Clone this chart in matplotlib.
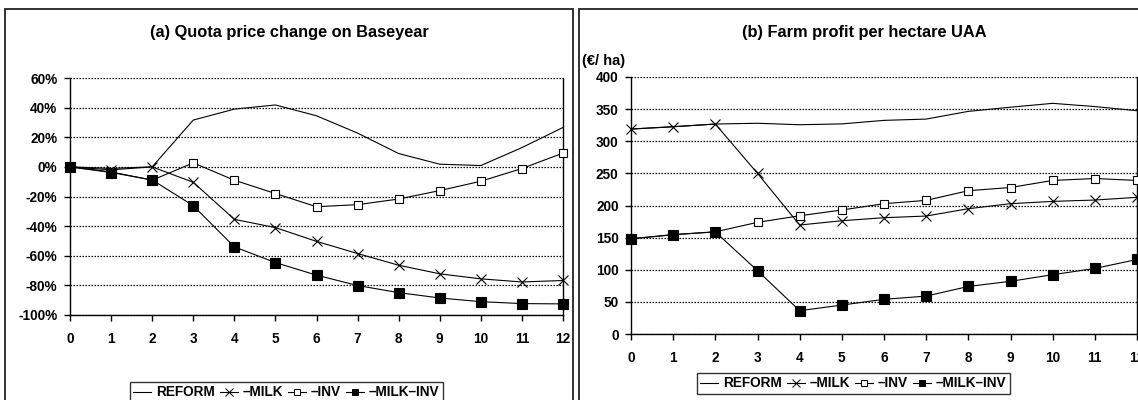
import numpy as np
import matplotlib
matplotlib.use('Agg')
import matplotlib.pyplot as plt
from matplotlib.lines import Line2D
from matplotlib.patches import Rectangle
from matplotlib.ticker import FuncFormatter

plt.rcParams.update({
    'font.family': ['Liberation Sans', 'DejaVu Sans'],
    'font.weight': 'bold',
    'font.size': 9.5,
})

# ─── Data ───────────────────────────────────────────────────────────────────
years = list(range(13))
series_names = ['REFORM', '\u2013MILK', '\u2013INV', '\u2013MILK\u2013INV']

# (a) quota price change on base year, in %
quota_reform = [0, -1, 0, 31.6, 39, 41.8, 34.5, 22.8, 9, 1.8, 0.9, 13, 26.6]
quota_milk = [0, -2, 0, -10.4, -35.4, -41, -50.3, -58.5, -66.4, -72.2, -75.6, -77.7, -76.7]
quota_inv = [0, -3.4, -9, 2.7, -9, -18, -26.9, -25.5, -21.7, -16, -9.7, -1.1, 9.3]
quota_milk_inv = [0, -3.8, -8.8, -26.2, -54, -64.6, -73.1, -80.1, -84.9, -88.5, -91, -92.3, -92.5]

# (b) farm profit per hectare UAA, EUR/ha
profit_reform = [319, 322.6, 326.8, 328, 325.7, 327, 332.5, 334.5, 346.5, 353, 359, 354, 347.5]
profit_milk = [319, 322.6, 326.8, 250, 169.6, 176.3, 181, 183.6, 195, 202.8, 206.4, 208.5, 212.7]
profit_inv = [148.3, 154.6, 159, 173.8, 184, 193, 202.8, 208, 223, 228, 239, 242, 239]
profit_milk_inv = [148, 154.6, 159, 98.5, 36.3, 45, 54, 59, 74, 82, 92.3, 102, 116]

quota_ticks = [-100, -80, -60, -40, -20, 0, 20, 40, 60]
profit_ticks = [0, 50, 100, 150, 200, 250, 300, 350, 400]

# marker style per series: (marker, facecolor, size)
STYLES = [
    (None, 'none', 0),
    ('x', 'none', 7),
    ('s', 'white', 6),
    ('s', 'black', 6.5),
]

W, H = 1138, 400
fig = plt.figure(figsize=(W / 100, H / 100), dpi=100)


def px_axes(x0, x1, y0, y1):
    # pixel box (top-left origin) -> figure fraction
    return fig.add_axes([x0 / W, 1 - y1 / H, (x1 - x0) / W, (y1 - y0) / H])


def draw_panel(ax, data, ticks):
    for vals, (mk, fc, ms) in zip(data, STYLES):
        ax.plot(years, vals, color='black', lw=0.8, marker=mk, ms=ms,
                mfc=fc, mec='black', mew=0.8, clip_on=False, zorder=3)
    ax.set_xlim(0, 12)
    ax.set_ylim(ticks[0], ticks[-1])
    ax.set_xticks(years)
    ax.set_yticks(ticks)
    ax.yaxis.grid(True, color='black', ls=(0, (1.2, 1.2)), lw=0.9)
    ax.set_axisbelow(True)
    ax.spines['top'].set_visible(False)
    for s in ('left', 'bottom', 'right'):
        ax.spines[s].set_linewidth(1.0)
    ax.tick_params(direction='out', length=4, width=1.0, labelsize=9.8, pad=8)


# ─── Panel frames ────────────────────────────────────────────────────────────
fig.add_artist(Rectangle((5 / W, -0.1), (573 - 5) / W, 1.1 - 9 / H,
                         transform=fig.transFigure, fill=False, ec='#222222', lw=1.3))
fig.add_artist(Rectangle((579 / W, -0.1), 0.6, 1.1 - 9 / H,
                         transform=fig.transFigure, fill=False, ec='#222222', lw=1.3))

# ─── (a) Quota price change ─────────────────────────────────────────────────
ax1 = px_axes(70, 563, 78, 315)
draw_panel(ax1, [quota_reform, quota_milk, quota_inv, quota_milk_inv], quota_ticks)
ax1.yaxis.set_major_formatter(FuncFormatter(lambda v, p: f'{v:.0f}%'))
ax1.tick_params(axis='y', pad=5)
fig.text(289 / W, 1 - 33 / H, '(a) Quota price change on Baseyear', ha='center',
         va='center', fontsize=11.8, fontweight='bold')

# ─── (b) Farm profit per hectare ────────────────────────────────────────────
ax2 = px_axes(631, 1137, 77, 334)
draw_panel(ax2, [profit_reform, profit_milk, profit_inv, profit_milk_inv], profit_ticks)
ax2.tick_params(axis='y', pad=5)
fig.text(864 / W, 1 - 33 / H, '(b) Farm profit per hectare UAA', ha='center',
         va='center', fontsize=11.8, fontweight='bold')
fig.text(582 / W, 1 - 61 / H, '(\u20ac/ ha)', ha='left', va='center',
         fontsize=10.5, fontweight='bold')

# ─── Legends ─────────────────────────────────────────────────────────────────
handles = [Line2D([], [], color='black', lw=0.8, marker=mk, ms=ms * 0.75, mfc=fc,
                  mec='black', mew=0.7) for mk, fc, ms in STYLES]
for x0, y0 in ((130, 382), (697, 373)):
    leg = fig.legend(handles, series_names, loc='upper left', ncol=4,
                     bbox_to_anchor=(x0 / W, 1 - y0 / H),
                     frameon=True, fancybox=False, edgecolor='black',
                     handlelength=1.3, handletextpad=0.35, columnspacing=0.4,
                     borderpad=0.25, borderaxespad=0,
                     prop={'weight': 'bold', 'size': 9.8})
    leg.get_frame().set_linewidth(1.0)

plt.savefig('out.png', dpi=100)
plt.close()
